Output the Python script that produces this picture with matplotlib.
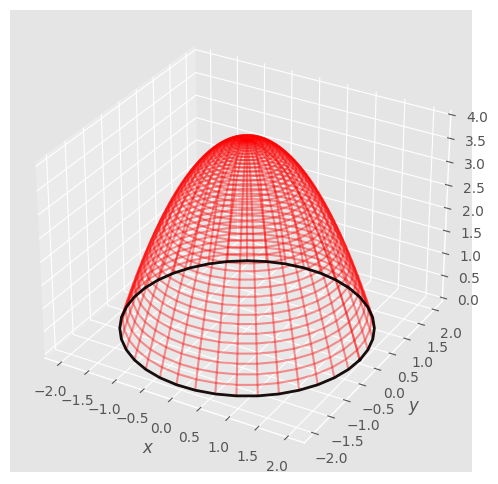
import numpy as np
import matplotlib.pyplot as plt

plt.style.use('ggplot')

radii = [0.0, 0.05, 0.1, 0.15, 0.2, 0.25, 0.3, 0.35, 0.4, 0.45,
         0.5, 0.55, 0.6, 0.65, 0.7, 0.75, 0.8, 0.85, 0.9, 0.95,
         1.0, 1.05, 1.1, 1.15, 1.2, 1.25, 1.3, 1.35, 1.4, 1.45,
         1.5, 1.55, 1.6, 1.65, 1.7, 1.75, 1.8, 1.85, 1.9, 1.95, 2.0]
heights = [4.0, 4.0, 3.99, 3.98, 3.96, 3.94, 3.91, 3.88, 3.84, 3.8,
           3.75, 3.7, 3.64, 3.58, 3.51, 3.44, 3.36, 3.28, 3.19, 3.1,
           3.0, 2.9, 2.79, 2.68, 2.56, 2.44, 2.31, 2.18, 2.04, 1.9,
           1.75, 1.6, 1.44, 1.28, 1.11, 0.94, 0.76, 0.58, 0.39, 0.2, 0.0]
n_angles = 40
rim_radius = 2.0
ticks_xy = [-2.0, -1.5, -1.0, -0.5, 0.0, 0.5, 1.0, 1.5, 2.0]
ticks_z = [0.0, 0.5, 1.0, 1.5, 2.0, 2.5, 3.0, 3.5, 4.0]

theta = np.linspace(0, 2*np.pi, n_angles)
R, T = np.meshgrid(radii, theta)
Z = np.tile(heights, (n_angles, 1))
X = R*np.cos(T)
Y = R*np.sin(T)

fig = plt.figure(figsize=(4.98, 4.84), dpi=100)
ax = fig.add_axes([10/498, 12/484, 462/498, 462/484], projection='3d')

ax.plot_wireframe(X, Y, Z, rstride=1, cstride=1, color='r', alpha=0.4)
ax.plot(rim_radius*np.cos(theta), rim_radius*np.sin(theta), 0*theta, color='k', lw=2, alpha=0.9)

ax.set_xticks(ticks_xy)
ax.set_yticks(ticks_xy)
ax.set_zticks(ticks_z)
ax.set_xlabel('$x$')
ax.set_ylabel('$y$')

fig.savefig('out.png', dpi=100)
